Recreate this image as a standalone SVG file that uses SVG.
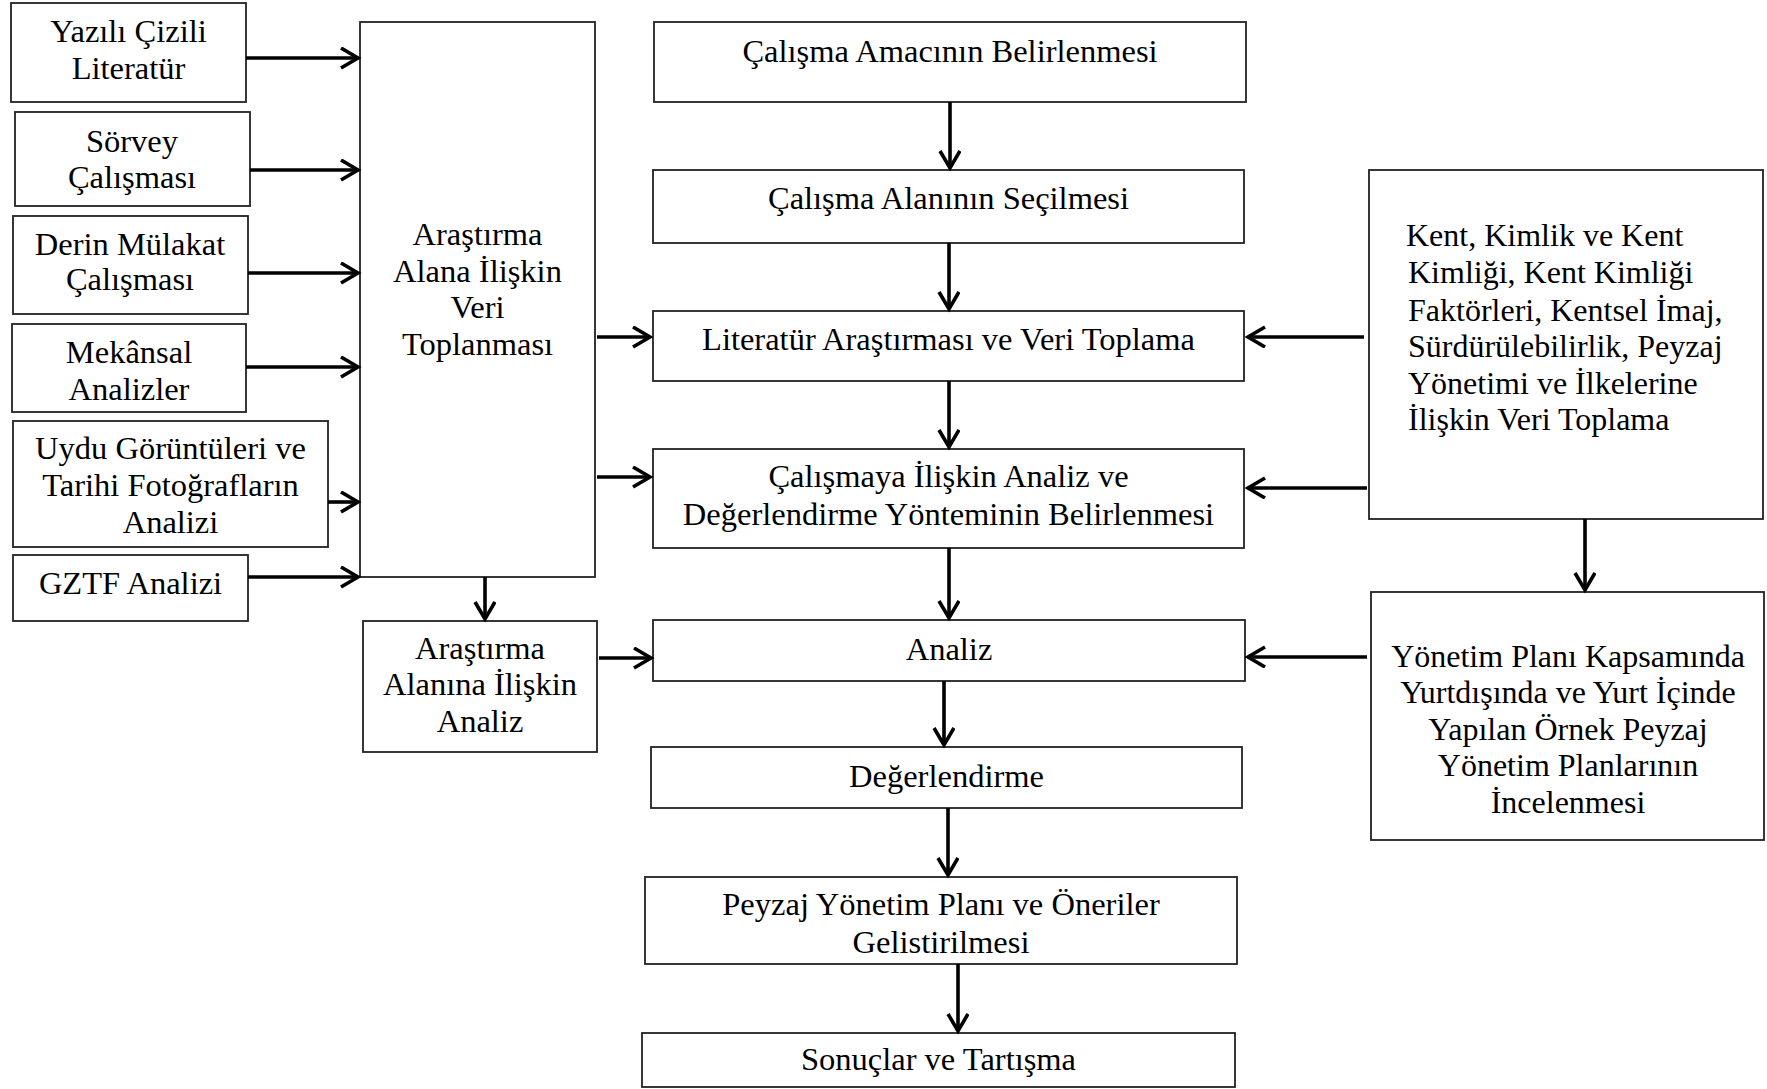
<svg xmlns="http://www.w3.org/2000/svg" width="1767" height="1089" viewBox="0 0 1767 1089">
<defs>
<style>
.box{fill:#fff;stroke:#222;stroke-width:1.8}
text{font-family:"Liberation Serif","Times New Roman",serif;font-size:32.5px;fill:#000}
.k{font-size:32px}
.c{text-anchor:middle}
.arr{stroke:#000;stroke-width:3.6;fill:none;marker-end:url(#ah)}
</style>
<marker id="ah" markerUnits="userSpaceOnUse" markerWidth="24" markerHeight="26" refX="19" refY="11" orient="auto" viewBox="0 0 24 26">
<path d="M2,1 L19,11 L2,21" fill="none" stroke="#000" stroke-width="3.6"/>
</marker>
</defs>
<rect width="1767" height="1089" fill="#fff"/>

<g id="n-yazili"><rect class="box" x="11" y="3" width="235" height="99"/><text class="c" x="128.5" y="42">Yazılı Çizili</text><text class="c" x="128.5" y="79">Literatür</text></g>
<g id="n-sorvey"><rect class="box" x="15" y="112" width="235" height="94"/><text class="c" x="132" y="152">Sörvey</text><text class="c" x="132" y="188">Çalışması</text></g>
<g id="n-derin"><rect class="box" x="13" y="216" width="235" height="98"/><text class="c" x="130" y="255">Derin Mülakat</text><text class="c" x="130" y="290">Çalışması</text></g>
<g id="n-mekansal"><rect class="box" x="12" y="324" width="234" height="88"/><text class="c" x="129" y="363">Mekânsal</text><text class="c" x="129" y="400">Analizler</text></g>
<g id="n-uydu"><rect class="box" x="13" y="421" width="315" height="126"/><text class="c" x="170.5" y="459">Uydu Görüntüleri ve</text><text class="c" x="170.5" y="496">Tarihi Fotoğrafların</text><text class="c" x="170.5" y="533">Analizi</text></g>
<g id="n-gztf"><rect class="box" x="13" y="555" width="235" height="66"/><text class="c" x="130.5" y="594">GZTF Analizi</text></g>
<g id="n-veri"><rect class="box" x="360" y="22" width="235" height="555"/><text class="c" x="477.5" y="245">Araştırma</text><text class="c" x="477.5" y="282">Alana İlişkin</text><text class="c" x="477.5" y="318">Veri</text><text class="c" x="477.5" y="355">Toplanması</text></g>
<g id="n-alanina"><rect class="box" x="363" y="621" width="234" height="131"/><text class="c" x="480" y="659">Araştırma</text><text class="c" x="480" y="695">Alanına İlişkin</text><text class="c" x="480" y="732">Analiz</text></g>

<g id="n-amac"><rect class="box" x="654" y="22" width="592" height="80"/><text class="c" x="950" y="62">Çalışma Amacının Belirlenmesi</text></g>
<g id="n-alan"><rect class="box" x="653" y="170" width="591" height="73"/><text class="c" x="948.5" y="209">Çalışma Alanının Seçilmesi</text></g>
<g id="n-literatur"><rect class="box" x="653" y="311" width="591" height="70"/><text class="c" x="948.5" y="350">Literatür Araştırması ve Veri Toplama</text></g>
<g id="n-yontem"><rect class="box" x="653" y="449" width="591" height="99"/><text class="c" x="948.5" y="487">Çalışmaya İlişkin Analiz ve</text><text class="c" x="948.5" y="525">Değerlendirme Yönteminin Belirlenmesi</text></g>
<g id="n-analiz"><rect class="box" x="653" y="620" width="592" height="61"/><text class="c" x="949" y="660">Analiz</text></g>
<g id="n-degerlendirme"><rect class="box" x="651" y="747" width="591" height="61"/><text class="c" x="946.5" y="787">Değerlendirme</text></g>
<g id="n-peyzaj"><rect class="box" x="645" y="877" width="592" height="87"/><text class="c" x="941" y="915">Peyzaj Yönetim Planı ve Öneriler</text><text class="c" x="941" y="953">Gelistirilmesi</text></g>
<g id="n-sonuc"><rect class="box" x="642" y="1033" width="593" height="54"/><text class="c" x="938.5" y="1070">Sonuçlar ve Tartışma</text></g>

<g id="n-kent"><rect class="box" x="1369" y="170" width="394" height="349"/><text class="k" x="1406" y="246">Kent, Kimlik ve Kent</text><text class="k" x="1408" y="283">Kimliği, Kent Kimliği</text><text class="k" x="1408" y="321">Faktörleri, Kentsel İmaj,</text><text class="k" x="1408" y="357">Sürdürülebilirlik, Peyzaj</text><text class="k" x="1408" y="394">Yönetimi ve İlkelerine</text><text class="k" x="1408" y="430">İlişkin Veri Toplama</text></g>
<g id="n-yonetim"><rect class="box" x="1371" y="592" width="393" height="248"/><text class="c k" x="1568" y="667">Yönetim Planı Kapsamında</text><text class="c k" x="1568" y="703">Yurtdışında ve Yurt İçinde</text><text class="c k" x="1568" y="740">Yapılan Örnek Peyzaj</text><text class="c k" x="1568" y="776">Yönetim Planlarının</text><text class="c k" x="1568" y="813">İncelenmesi</text></g>

<g id="connectors">
<line class="arr" x1="246" y1="58" x2="358" y2="58"/>
<line class="arr" x1="250" y1="170" x2="358" y2="170"/>
<line class="arr" x1="248" y1="273" x2="358" y2="273"/>
<line class="arr" x1="246" y1="367" x2="358" y2="367"/>
<line class="arr" x1="328" y1="502" x2="358" y2="502"/>
<line class="arr" x1="248" y1="577" x2="358" y2="577"/>
<line class="arr" x1="485" y1="577" x2="485" y2="619"/>
<line class="arr" x1="597" y1="337" x2="650" y2="337"/>
<line class="arr" x1="597" y1="477" x2="650" y2="477"/>
<line class="arr" x1="599" y1="658" x2="651" y2="658"/>
<line class="arr" x1="950" y1="102" x2="950" y2="168"/>
<line class="arr" x1="949" y1="243" x2="949" y2="309"/>
<line class="arr" x1="949" y1="381" x2="949" y2="447"/>
<line class="arr" x1="949" y1="548" x2="949" y2="618"/>
<line class="arr" x1="944" y1="681" x2="944" y2="745"/>
<line class="arr" x1="948" y1="808" x2="948" y2="875"/>
<line class="arr" x1="958" y1="964" x2="958" y2="1031"/>
<line class="arr" x1="1364" y1="337" x2="1248" y2="337"/>
<line class="arr" x1="1367" y1="488" x2="1248" y2="488"/>
<line class="arr" x1="1585" y1="519" x2="1585" y2="590"/>
<line class="arr" x1="1367" y1="657" x2="1248" y2="657"/>
</g>
</svg>
